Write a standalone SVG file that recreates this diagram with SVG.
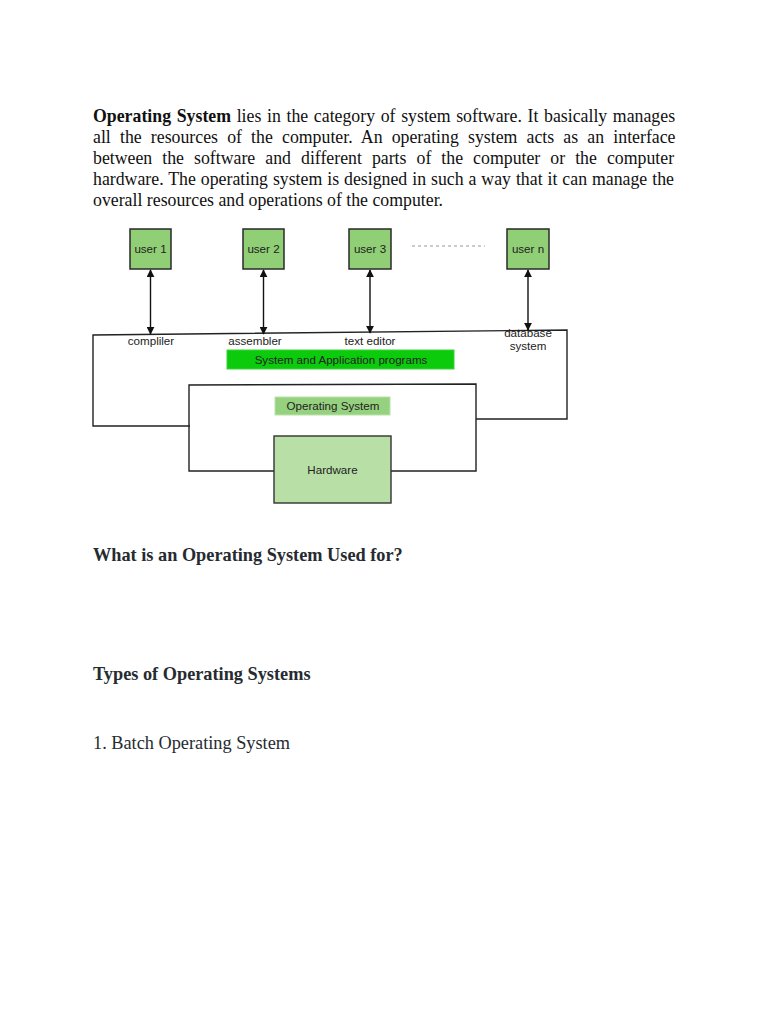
<svg xmlns="http://www.w3.org/2000/svg" width="768" height="1024" viewBox="0 0 768 1024">
<style>
.p{font-family:"Liberation Serif","Times New Roman",serif;font-size:17.8px;fill:#111}
.h{font-family:"Liberation Serif","Times New Roman",serif;font-size:18.3px;font-weight:bold;fill:#262b30}
.h2{font-family:"Liberation Serif","Times New Roman",serif;font-size:18.3px;fill:#262b30}
.lb{font-family:"Liberation Sans",Arial,sans-serif;font-size:11.6px;fill:#222}
.usr{fill:#90cf76;stroke:#2a2a2a;stroke-width:1.5}
.ln{fill:none;stroke:#222;stroke-width:1.4}
.ar{stroke:#111;stroke-width:1.4;marker-start:url(#ah);marker-end:url(#ah)}
</style>
<defs>
<marker id="ah" viewBox="0 0 10 10" refX="9" refY="5" markerWidth="8" markerHeight="8" orient="auto-start-reverse" markerUnits="userSpaceOnUse">
<path d="M0,0 L10,5 L0,10 z" fill="#111"/>
</marker>
</defs>
<rect width="768" height="1024" fill="#fff"/>
<g id="para">
<text class="p" x="93" y="122" word-spacing="1.2"><tspan font-weight="bold">Operating System</tspan> lies in the category of system software. It basically manages</text>
<text class="p" x="93" y="143" word-spacing="4.72">all the resources of the computer. An operating system acts as an interface</text>
<text class="p" x="93" y="164" word-spacing="5.59">between the software and different parts of the computer or the computer</text>
<text class="p" x="93" y="185" word-spacing="0.5">hardware. The operating system is designed in such a way that it can manage the</text>
<text class="p" x="93" y="206">overall resources and operations of the computer.</text>
</g>
<g id="frame">
<polyline class="ln" points="190,426 93,426 93,335 567,330 567,419 476,419"/>
<polyline class="ln" points="274,471 189,471 189,385 476,384 476,471 391,471"/>
<line x1="412" y1="246" x2="485" y2="246" stroke="#999" stroke-width="1" stroke-dasharray="3,3"/>
</g>
<g id="user1"><rect class="usr" x="130" y="229" width="41" height="40"/><text class="lb" x="150.5" y="253" text-anchor="middle">user 1</text></g>
<g id="user2"><rect class="usr" x="243" y="229" width="41" height="40"/><text class="lb" x="263.5" y="253" text-anchor="middle">user 2</text></g>
<g id="user3"><rect class="usr" x="349" y="229" width="42" height="40"/><text class="lb" x="370" y="253" text-anchor="middle">user 3</text></g>
<g id="usern"><rect class="usr" x="507" y="229" width="42" height="40"/><text class="lb" x="528" y="253" text-anchor="middle">user n</text></g>
<g id="labels">
<text class="lb" x="151" y="345" text-anchor="middle">compliler</text>
<text class="lb" x="255" y="345" text-anchor="middle">assembler</text>
<text class="lb" x="370" y="345" text-anchor="middle">text editor</text>
<text class="lb" x="528" y="337" text-anchor="middle">database</text>
<text class="lb" x="528" y="350" text-anchor="middle">system</text>
</g>
<g id="sysapp"><rect x="227" y="350" width="227" height="19" fill="#0ccb0c" stroke="#3ad43a" stroke-width="1"/><text class="lb" x="341" y="363.5" text-anchor="middle" fill="#2a5a2a">System and Application programs</text></g>
<g id="os"><rect x="275" y="397" width="115" height="18" fill="#96d17f" stroke="#b9e4a8" stroke-width="1"/><text class="lb" x="333" y="410" text-anchor="middle">Operating System</text></g>
<g id="hardware"><rect x="274" y="436" width="117" height="67" fill="#b8dfa6" stroke="#333" stroke-width="1.4"/><text class="lb" x="332.5" y="474" text-anchor="middle">Hardware</text></g>
<g id="connectors">
<line class="ar" x1="150.5" y1="270" x2="150.5" y2="334"/>
<line class="ar" x1="263.5" y1="270" x2="263.5" y2="334"/>
<line class="ar" x1="370" y1="270" x2="370" y2="333"/>
<line class="ar" x1="528" y1="270" x2="528" y2="330"/>
</g>
<g id="headings">
<text class="h" x="93" y="561">What is an Operating System Used for?</text>
<text class="h" x="93" y="680">Types of Operating Systems</text>
<text class="h2" x="93" y="749">1. Batch Operating System</text>
</g>
</svg>
